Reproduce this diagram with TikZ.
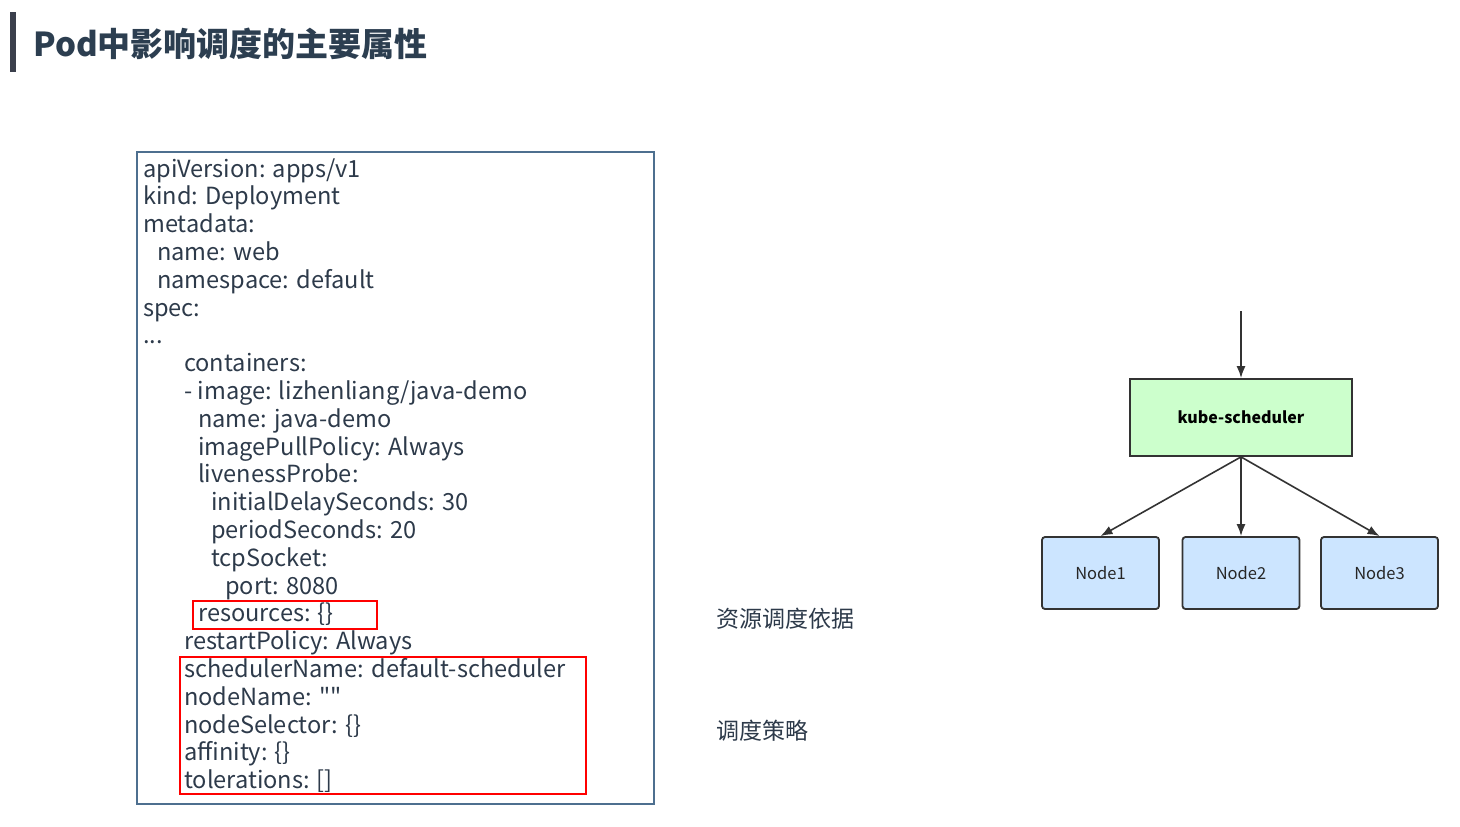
\documentclass[tikz,border=0pt]{standalone}
\usepackage{fontspec}
\setmainfont{Noto Sans CJK SC}
\usetikzlibrary{arrows.meta}
\definecolor{txt}{HTML}{2D3A4A}
\definecolor{ttl}{HTML}{2C3E50}
\definecolor{bar}{HTML}{3B3F4C}
\definecolor{frame}{HTML}{4D6F8F}
\definecolor{lgreen}{HTML}{CCFFCC}
\definecolor{lblue}{HTML}{CCE5FF}

\begin{document}
\begin{tikzpicture}[x=1pt, y=-1pt,
  yaml/.style={anchor=base west, inner sep=0pt, text=txt, font=\fontsize{23.6}{24}\selectfont},
  mark box/.style={draw=red, line width=1.6pt},
  sched/.style={draw=black!80, line width=1.8pt, fill=lgreen, minimum width=222pt, minimum height=77pt, font=\fontsize{16}{16}\selectfont\bfseries},
  kube node/.style={draw=black!80, line width=1.8pt, fill=lblue, rounded corners=3pt, minimum width=117pt, minimum height=72pt, font=\fontsize{16.5}{16.5}\selectfont, text=black!85},
  flow/.style={draw=black!80, line width=1.6pt, -{Latex[length=12pt,width=9pt]}}]
\useasboundingbox (0,0) rectangle (1460,827);
\fill[bar] (10,12) rectangle (16,72); % title bar
\node[anchor=base west, inner sep=0pt, text=ttl, font=\fontsize{33}{33}\selectfont\bfseries] (title) at (33,56) {Pod中影响调度的主要属性}; % title
\draw[frame, line width=1.2pt] (137,152) rectangle (654,804); % yaml frame
\foreach \ix/\line [count=\i] in {143/{apiVersion: apps/v1}, 143/{kind: Deployment}, 143/{metadata:},
  157/{name: web}, 157/{namespace: default}, 143/{spec:}, 143/{...}, 184/{containers:},
  184/{- image: lizhenliang/java-demo}, 198/{name: java-demo}, 198/{imagePullPolicy: Always},
  198/{livenessProbe:}, 211/{initialDelaySeconds: 30}, 211/{periodSeconds: 20}, 211/{tcpSocket:},
  225/{port: 8080}, 198/{resources: \{\}}, 184/{restartPolicy: Always},
  184/{schedulerName: default-scheduler}, 184/{nodeName: \textquotedbl\textquotedbl}, 184/{nodeSelector: \{\}},
  184/{affinity: \{\}}, 184/{tolerations: []}}
  \node[yaml] (l\i) at (\ix,{177+27.8*(\i-1)}) {\line}; % yaml lines
\draw[mark box] (193,601) rectangle (377,629); % resources box
\draw[mark box] (180,657) rectangle (586,794); % scheduling box
\node[anchor=west, inner sep=0pt, text=txt, font=\fontsize{23}{23}\selectfont] (res) at (716,619) {资源调度依据};
\node[anchor=west, inner sep=0pt, text=txt, font=\fontsize{23}{23}\selectfont] (pol) at (716,731) {调度策略};
\node[sched] (ks) at (1241,417.5) {kube-scheduler};
\node[kube node] (n1) at (1100.5,573) {Node1};
\node[kube node] (n2) at (1241,573) {Node2};
\node[kube node] (n3) at (1379.5,573) {Node3};
\coordinate (in) at (1241,311);
\draw[flow] (in) -- (ks.north); % incoming pod
\draw[flow] (ks.south) -- (n1.north);
\draw[flow] (ks.south) -- (n2.north);
\draw[flow] (ks.south) -- (n3.north);
\end{tikzpicture}
\end{document}
